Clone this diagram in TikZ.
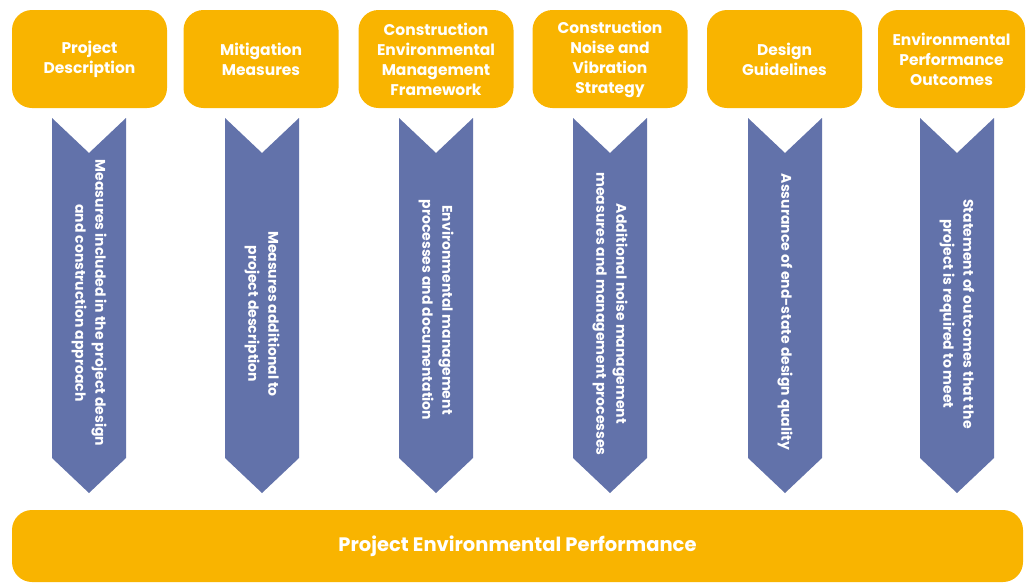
\documentclass[tikz,border=0pt]{standalone}
\usepackage{fontspec}
\setmainfont{Poppins}
\usetikzlibrary{positioning}

\definecolor{amber}{RGB}{249,180,0}
\definecolor{slate}{RGB}{98,114,170}

\tikzset{
  topbox/.style={fill=amber, rounded corners=20pt, minimum width=155pt, minimum height=98pt,
                 align=center, text=white, font=\fontsize{15.5}{20}\selectfont\bfseries, inner sep=0pt},
  chev/.style={fill=slate},
  chevtext/.style={rotate=-90, align=center, text=white, font=\fontsize{14}{20}\selectfont\bfseries},
  basebar/.style={fill=amber, rounded corners=20pt, minimum width=1011pt, minimum height=72pt,
                  text=white, font=\fontsize{19.5}{22}\selectfont\bfseries}
}

\begin{document}
\begin{tikzpicture}[x=1pt,y=-1pt]
	\useasboundingbox (0,0) rectangle (1026,582);

	% headings
	\node[topbox] (desc) at (89.5,59) {Project\\Description};
	\node[topbox] (mitig) at (261,59) {Mitigation\\Measures};
	\node[topbox] (cemf) at (436,59) {Construction\\Environmental\\Management\\Framework};
	\node[topbox] (cnvs) at (610,59) {Construction\\Noise and\\Vibration\\Strategy};
	\node[topbox] (design) at (784.5,59) {Design\\Guidelines};
	\node[topbox, minimum width=147pt] (epo) at (951.5,59) {Environmental\\Performance\\Outcomes};

	% chevrons
	\fill[chev] (52,118) -- (89,153) -- (126,118) -- (126,458) -- (89,493) -- (52,458) -- cycle;
	\fill[chev] (225,118) -- (262,153) -- (299,118) -- (299,458) -- (262,493) -- (225,458) -- cycle;
	\fill[chev] (399,118) -- (436,153) -- (473,118) -- (473,458) -- (436,493) -- (399,458) -- cycle;
	\fill[chev] (573,118) -- (610,153) -- (647,118) -- (647,458) -- (610,493) -- (573,458) -- cycle;
	\fill[chev] (748,118) -- (785,153) -- (822,118) -- (822,458) -- (785,493) -- (748,458) -- cycle;
	\fill[chev] (920,118) -- (957,153) -- (994,118) -- (994,458) -- (957,493) -- (920,458) -- cycle;

	\node[chevtext] (t1) at (89,303) {Measures included in the project design\\and construction approach};
	\node[chevtext] (t2) at (262,314) {Measures additional to\\project description};
	\node[chevtext] (t3) at (436,310) {Environmental management\\processes and documentation};
	\node[chevtext] (t4) at (610,314) {Additional noise management\\measures and management processes};
	\node[chevtext] (t5) at (785,312) {Assurance of end-state design quality};
	\node[chevtext] (t6) at (957,314) {Statement of outcomes that the\\project is required to meet};

	% outcome
	\node[basebar] (perf) at (517.5,546) {Project Environmental Performance};
\end{tikzpicture}
\end{document}
